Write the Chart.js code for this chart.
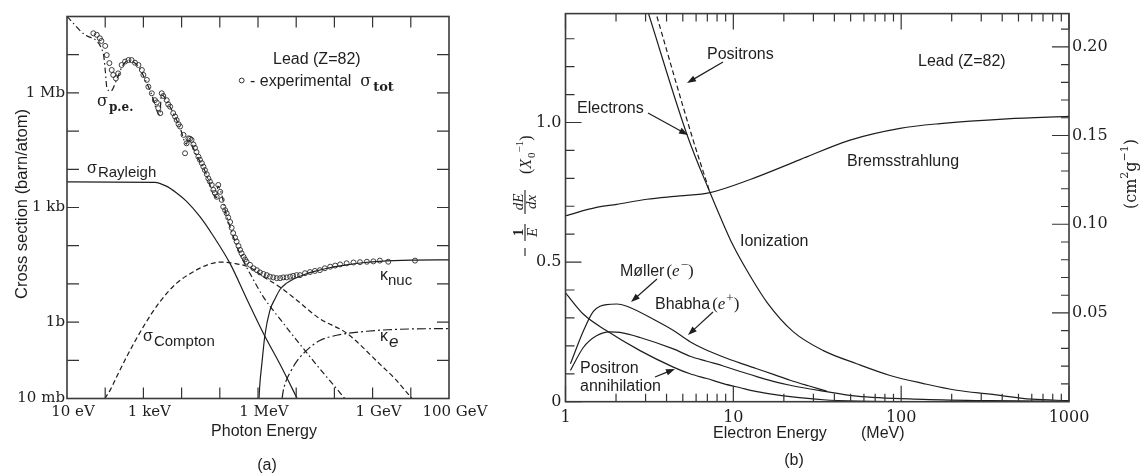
<!DOCTYPE html>
<html><head><meta charset="utf-8">
<script src="https://cdn.jsdelivr.net/npm/chart.js@4.4.1/dist/chart.umd.min.js"></script>
<style>
html,body{margin:0;padding:0;background:#fff;}
#wrap{position:relative;width:1146px;height:473px;overflow:hidden;}
.box{position:absolute;top:0;height:473px;}
</style></head><body>
<div id="wrap">
<div class="box" style="left:0;width:500px"><canvas id="ca"></canvas></div>
<div class="box" style="left:500px;width:646px"><canvas id="cb"></canvas></div>
</div>
<script>
// ================= Panel (a): log10(E / eV) and log10(sigma / barn) =================
const peLogE   = [1.0, 1.5, 1.95, 2.0, 2.05, 2.15, 2.3, 2.45, 2.6, 2.75, 2.9, 3.0, 3.2, 3.43, 3.47, 3.7, 3.95, 4.13, 4.16, 4.4, 4.6, 4.92, 4.95, 5.2, 5.5, 5.83, 6.14, 6.6, 7.01, 7.6, 8.23, 8.27];
const peLogSig = [8.0, 7.5, 7.04, 6.6, 6.1, 6.05, 6.35, 6.7, 6.85, 6.8, 6.65, 6.45, 6.0, 5.42, 5.95, 5.63, 5.11, 4.66, 4.78, 4.35, 3.98, 3.26, 3.56, 2.7, 1.85, 1.2, 0.66, 0.05, -0.47, -1.2, -1.95, -2.0];

const rayLogE   = [1.0, 3.3, 3.6, 3.87, 4.13, 4.48, 4.8, 5.27, 5.7, 6.14, 6.6, 7.05];
const rayLogSig = [3.67, 3.66, 3.56, 3.38, 3.16, 2.76, 2.3, 1.53, 0.62, -0.29, -1.15, -2.05];

const comLogE   = [1.99, 2.13, 2.3, 2.56, 3.0, 3.43, 3.87, 4.31, 4.66, 5.0, 5.35, 5.79, 6.14, 6.6, 7.01, 7.6, 8.32, 9.19, 9.6, 10.03];
const comLogSig = [-2.0, -1.78, -1.43, -0.91, -0.12, 0.53, 1.02, 1.32, 1.49, 1.57, 1.54, 1.43, 1.19, 0.9, 0.58, 0.1, -0.29, -1.1, -1.5, -2.0];

const nucLogE   = [6.026, 6.05, 6.1, 6.18, 6.31, 6.45, 6.58, 6.75, 6.92, 7.2, 7.45, 7.9, 8.32, 8.8, 9.19, 10.0, 11.0];
const nucLogSig = [-2.0, -1.6, -1.1, -0.35, 0.3, 0.62, 0.86, 1.02, 1.12, 1.24, 1.32, 1.43, 1.5, 1.56, 1.59, 1.62, 1.63];

const keLogE   = [6.63, 6.66, 6.72, 6.84, 7.0, 7.19, 7.4, 7.62, 7.95, 8.32, 8.85, 9.4, 10.0, 11.0];
const keLogSig = [-2.0, -1.8, -1.58, -1.32, -1.05, -0.82, -0.63, -0.48, -0.37, -0.3, -0.24, -0.2, -0.18, -0.17];

const totLogE = [1.69,1.78,1.86,1.90,2.00,2.04,2.11,2.17,2.21,2.28,2.34,2.43,2.52,2.61,2.69,2.78,2.87,2.96,3.00,3.09,3.13,3.22,3.30,3.35,3.39,3.44,3.48,3.52,3.61,3.65,3.70,3.78,3.83,3.87,3.92,3.96,4.05,4.09,4.13,4.18,4.22,4.26,4.31,4.35,4.39,4.44,4.48,4.53,4.57,4.61,4.66,4.70,4.74,4.79,4.83,4.87,4.92,4.96,5.01,5.05,5.09,5.14,5.18,5.22,5.27,5.31,5.35,5.40,5.44,5.49,5.53,5.57,5.62,5.66,5.70,5.79,5.88,5.97,6.05,6.14,6.23,6.31,6.40,6.49,6.58,6.66,6.75,6.84,6.92,7.01,7.10,7.23,7.36,7.49,7.62,7.75,7.89,8.02,8.15,8.32,8.50,8.67,8.85,9.02,9.19,9.41,10.11];
const totLogSig = [7.56,7.52,7.43,7.36,7.23,6.99,6.78,6.60,6.47,6.38,6.51,6.73,6.82,6.86,6.86,6.79,6.73,6.60,6.47,6.34,6.16,5.99,5.81,5.75,5.60,5.47,5.99,5.92,5.81,5.70,5.64,5.47,5.38,5.29,5.18,5.12,4.90,4.42,4.68,4.81,4.80,4.77,4.65,4.56,4.45,4.33,4.25,4.16,4.07,3.98,3.87,3.76,3.68,3.59,3.46,3.38,3.28,3.59,3.41,3.20,3.02,2.93,2.85,2.74,2.62,2.47,2.33,2.21,2.11,1.99,1.89,1.80,1.71,1.64,1.58,1.50,1.41,1.36,1.30,1.26,1.23,1.19,1.17,1.15,1.15,1.17,1.17,1.19,1.21,1.23,1.23,1.28,1.31,1.34,1.36,1.41,1.45,1.48,1.51,1.54,1.56,1.57,1.58,1.59,1.61,1.58,1.61];

const xTickValsA   = [1e1, 1e3, 1e6, 1e9, 1e11];
const xTickLabelsA = ['10 eV', '1 keV', '1 MeV', '1 GeV', '100 GeV'];
const yTickValsA   = [1e-2, 1, 1e3, 1e6];
const yTickLabelsA = ['10 mb', '1b', '1 kb', '1 Mb'];
const xDecadesA = [1e2,1e3,1e4,1e5,1e6,1e7,1e8,1e9,1e10];
const yDecadesA = [1e-1,1,1e1,1e2,1e3,1e4,1e5,1e6,1e7];

// ================= Panel (b): E in MeV, -1/E dE/dx in X0^-1 =================
const elecE = [3.1, 5.35, 7.26, 8.33, 9.96, 12.6, 15.9, 22.8, 34.4, 54.3, 85.9, 136, 214, 339, 600, 1000];
const elecV = [1.396, 0.949, 0.749, 0.664, 0.56, 0.45, 0.355, 0.25, 0.183, 0.136, 0.094, 0.065, 0.041, 0.027, 0.009, 0.004];
const posiE = [3.4, 5.68, 7.26];
const posiV = [1.407, 0.949, 0.749];
const bremE = [1, 1.53, 2.02, 3.05, 4.81, 7.26, 12.6, 25, 49.6, 98.5, 171, 426, 1000];
const bremV = [0.666, 0.696, 0.707, 0.725, 0.737, 0.749, 0.796, 0.867, 0.937, 0.979, 0.996, 1.013, 1.022];
const mollE = [1.07, 1.28, 1.47, 1.76, 2.02, 2.32, 3.49, 4.4, 5.52, 6.9, 8.72, 11, 13.8, 17.5, 21.8, 28, 36];
const mollV = [0.136, 0.254, 0.324, 0.348, 0.350, 0.342, 0.289, 0.255, 0.215, 0.185, 0.16, 0.138, 0.118, 0.097, 0.077, 0.057, 0.038];
const bhabE = [1.07, 1.28, 1.53, 1.84, 2.11, 2.78, 4.39, 5.52, 6.94, 8.72, 11, 13.8, 17.3, 21.8, 34.4, 54.3, 136, 339, 1000];
const bhabV = [0.112, 0.195, 0.236, 0.250, 0.248, 0.230, 0.189, 0.163, 0.145, 0.128, 0.108, 0.09, 0.073, 0.059, 0.038, 0.020, 0.0085, 0.0035, 0.001];
const annE = [1, 1.28, 1.76, 2.78, 4.39, 5.52, 6.94, 8.72, 11, 13.8, 17.3, 21.8, 34.4, 55, 100];
const annV = [0.39, 0.313, 0.254, 0.183, 0.124, 0.100, 0.083, 0.065, 0.050, 0.036, 0.026, 0.018, 0.007, 0.002, 0.0];

const xTickValsB = [1, 10, 100, 1000];
const xTickLabelsB = ['1', '10', '100', '1000'];
const xMinorB = [2,3,4,5,6,7,8,9,20,30,40,50,60,70,80,90,200,300,400,500,600,700,800,900];
const yMaxB = 1.39;
const yTickValsB = [0, 0.5, 1.0];
const yTickLabelsB = ['0', '0.5', '1.0'];
const yMinorB = [0.1,0.2,0.3,0.4,0.6,0.7,0.8,0.9,1.1,1.2,1.3];
const y2MaxB = 0.2187;
const y2TickValsB = [0.05, 0.10, 0.15, 0.20];
const y2TickLabelsB = ['0.05', '0.10', '0.15', '0.20'];
const y2MinorB = [0.01,0.02,0.03,0.04,0.06,0.07,0.08,0.09,0.11,0.12,0.13,0.14,0.16,0.17,0.18,0.19,0.21];

// ================= helpers =================
const SANS = "'Liberation Sans', Arial, sans-serif";
const SERIF = "'DejaVu Serif', serif";
const MATH = "'Liberation Serif', 'Times New Roman', serif";
const INK = '#1e1e1e';
const logPts = (lx, ly) => lx.map((v, i) => ({x: Math.pow(10, v), y: Math.pow(10, ly[i])}));
const linPts = (xs, ys) => xs.map((v, i) => ({x: v, y: ys[i]}));
Chart.defaults.color = INK;

function lineDS(data, dash) {
  return {data, borderColor: INK, borderWidth: 1.2, pointRadius: 0, fill: false,
          borderDash: dash || [], cubicInterpolationMode: 'monotone'};
}
function frameTicks(chart, specs) {
  const ctx = chart.ctx, a = chart.chartArea;
  ctx.save();
  ctx.strokeStyle = '#333'; ctx.lineWidth = 1.2;
  ctx.beginPath();
  specs.forEach(([id, vals, len, sides]) => {
    const s = chart.scales[id];
    vals.forEach(v => {
      const p = s.getPixelForValue(v);
      sides.forEach(side => {
        if (side === 'bottom') { ctx.moveTo(p, a.bottom); ctx.lineTo(p, a.bottom - len); }
        if (side === 'top') { ctx.moveTo(p, a.top); ctx.lineTo(p, a.top + len); }
        if (side === 'left') { ctx.moveTo(a.left, p); ctx.lineTo(a.left + len, p); }
        if (side === 'right') { ctx.moveTo(a.right, p); ctx.lineTo(a.right - len, p); }
      });
    });
  });
  ctx.stroke();
  ctx.lineWidth = 1.6; ctx.strokeStyle = '#3a3a3a';
  ctx.strokeRect(a.left, a.top, a.right - a.left, a.bottom - a.top);
  ctx.restore();
}
function rich(ctx, x, y, segs, align) {
  let w = 0;
  segs.forEach(s => { ctx.font = s.f; s.w = ctx.measureText(s.t).width + (s.dx || 0); w += s.w; });
  let cx = align === 'center' ? x - w / 2 : x;
  ctx.textAlign = 'left';
  segs.forEach(s => { ctx.font = s.f; ctx.fillText(s.t, cx, y + (s.dy || 0)); cx += s.w; });
}
function arrow(ctx, x1, y1, x2, y2) {
  const ang = Math.atan2(y2 - y1, x2 - x1), L = 9, W = 3.2;
  ctx.beginPath(); ctx.moveTo(x1, y1); ctx.lineTo(x2 - L * 0.8 * Math.cos(ang), y2 - L * 0.8 * Math.sin(ang)); ctx.stroke();
  ctx.beginPath();
  ctx.moveTo(x2, y2);
  ctx.lineTo(x2 - L * Math.cos(ang) + W * Math.sin(ang), y2 - L * Math.sin(ang) - W * Math.cos(ang));
  ctx.lineTo(x2 - L * Math.cos(ang) - W * Math.sin(ang), y2 - L * Math.sin(ang) + W * Math.cos(ang));
  ctx.closePath(); ctx.fill();
}
function setTicks(vals) { return s => { s.ticks = vals.map(v => ({value: v})); }; }

// ================= Chart (a) =================
const annotA = {
  id: 'annotA',
  afterDraw(chart) {
    frameTicks(chart, [['x', xDecadesA, 11, ['bottom', 'top']], ['y', yDecadesA, 12, ['left', 'right']]]);
    const ctx = chart.ctx;
    ctx.save();
    ctx.fillStyle = INK; ctx.strokeStyle = INK; ctx.textBaseline = 'alphabetic';
    ctx.font = '16px ' + SANS; ctx.textAlign = 'left';
    ctx.fillText('Lead (Z=82)', 273, 64);
    ctx.lineWidth = 0.9; ctx.beginPath(); ctx.arc(241.7, 80.5, 2.4, 0, Math.PI * 2); ctx.stroke();
    rich(ctx, 250, 86, [{t: '- experimental  ', f: '16px ' + SANS}, {t: 'σ', f: '16px ' + SERIF, dx: 2}, {t: 'tot', f: 'bold 13px ' + SERIF, dy: 5}]);
    rich(ctx, 97, 106, [{t: 'σ', f: '16px ' + SERIF, dx: 1}, {t: 'p.e.', f: 'bold 12px ' + SERIF, dy: 5}]);
    rich(ctx, 87, 173, [{t: 'σ', f: '16px ' + SANS, dx: 1}, {t: 'Rayleigh', f: '15px ' + SANS, dy: 4}]);
    rich(ctx, 143, 341, [{t: 'σ', f: '16px ' + SANS, dx: 1}, {t: 'Compton', f: '15px ' + SANS, dy: 5}]);
    rich(ctx, 380, 280, [{t: 'κ', f: '16px ' + SANS}, {t: 'nuc', f: '15px ' + SANS, dy: 5}]);
    rich(ctx, 380, 341, [{t: 'κ', f: '16px ' + SANS, dx: 1}, {t: 'e', f: 'italic 17px ' + SANS, dy: 6}]);
    ctx.textAlign = 'center';
    ctx.font = '16px ' + SANS;
    ctx.fillText('Photon Energy', 264, 436);
    ctx.fillText('(a)', 267, 470);
    ctx.translate(22, 204); ctx.rotate(-Math.PI / 2);
    ctx.textBaseline = 'middle'; ctx.font = '16.5px ' + SANS;
    ctx.fillText('Cross section (barn/atom)', 0, 0);
    ctx.restore();
  }
};

new Chart(document.getElementById('ca'), {
  type: 'line',
  data: {datasets: [
    {data: logPts(totLogE, totLogSig), showLine: false, pointRadius: 2.5, pointStyle: 'circle',
     pointBorderColor: '#2a2a2a', pointBackgroundColor: 'rgba(255,255,255,0)', pointBorderWidth: 0.9},
    lineDS(logPts(peLogE, peLogSig), [6, 3, 1.5, 3]),
    lineDS(logPts(rayLogE, rayLogSig)),
    lineDS(logPts(comLogE, comLogSig), [5, 3]),
    lineDS(logPts(nucLogE, nucLogSig)),
    lineDS(logPts(keLogE, keLogSig), [9, 3, 2, 3])
  ]},
  options: {
    responsive: true, maintainAspectRatio: false, animation: false, parsing: true,
    layout: {padding: {top: 16.5, right: 51, left: 0, bottom: 0}},
    plugins: {legend: {display: false}, tooltip: {enabled: false}},
    scales: {
      x: {type: 'logarithmic', min: 1e1, max: 1e11, position: 'bottom',
          grid: {display: false, drawTicks: false}, border: {display: false},
          afterBuildTicks: setTicks(xTickValsA), afterFit: s => { s.height = 74.5; },
          ticks: {autoSkip: false, maxRotation: 0, minRotation: 0, padding: 5, labelOffset: 6,
                  font: {family: 'DejaVu Serif', size: 15}, color: INK, callback: (v, i) => xTickLabelsA[i]}},
      y: {type: 'logarithmic', min: 1e-2, max: 1e8, position: 'left',
          grid: {display: false, drawTicks: false}, border: {display: false},
          afterBuildTicks: setTicks(yTickValsA), afterFit: s => { s.width = 67; },
          ticks: {autoSkip: false, padding: 2, font: {family: 'DejaVu Serif', size: 15}, color: INK,
                  callback: (v, i) => yTickLabelsA[i]}}
    }
  },
  plugins: [annotA]
});

// ================= Chart (b) =================
const OX = 500;
const annotB = {
  id: 'annotB',
  afterDraw(chart) {
    frameTicks(chart, [
      ['x', xTickValsB, 16, ['bottom', 'top']], ['x', xMinorB, 8, ['bottom', 'top']],
      ['y', yTickValsB, 16, ['left']], ['y', yMinorB, 9, ['left']],
      ['y2', y2TickValsB, 17, ['right']], ['y2', y2MinorB, 8, ['right']]
    ]);
    const ctx = chart.ctx;
    ctx.save();
    ctx.fillStyle = INK; ctx.strokeStyle = INK; ctx.lineWidth = 1.2;
    ctx.textBaseline = 'alphabetic'; ctx.textAlign = 'left';
    ctx.font = '16px ' + SANS;
    ctx.fillText('Positrons', 707 - OX, 58.5);
    ctx.fillText('Electrons', 577 - OX, 112.5);
    ctx.fillText('Lead (Z=82)', 918 - OX, 65.5);
    ctx.fillText('Bremsstrahlung', 847 - OX, 165.5);
    ctx.fillText('Ionization', 740 - OX, 245.5);
    ctx.fillText('Positron', 580 - OX, 372.5);
    ctx.fillText('annihilation', 580 - OX, 390.5);
    rich(ctx, 620 - OX, 275.5, [{t: 'Møller', f: '16px ' + SANS, dx: 2}, {t: '(', f: '17px ' + MATH},
      {t: 'e', f: 'italic 17px ' + MATH, dx: 1}, {t: '−', f: '13px ' + MATH, dy: -7}, {t: ')', f: '17px ' + MATH}]);
    rich(ctx, 655 - OX, 308.5, [{t: 'Bhabha', f: '16px ' + SANS, dx: 2}, {t: '(', f: '17px ' + MATH},
      {t: 'e', f: 'italic 17px ' + MATH, dx: 1}, {t: '+', f: '13px ' + MATH, dy: -7}, {t: ')', f: '17px ' + MATH}]);
    arrow(ctx, 723 - OX, 62, 687 - OX, 83);
    arrow(ctx, 648 - OX, 113, 688 - OX, 135);
    arrow(ctx, 657 - OX, 279, 631 - OX, 302);
    arrow(ctx, 713 - OX, 312, 688 - OX, 335);
    arrow(ctx, 655 - OX, 377, 675 - OX, 369);
    ctx.textAlign = 'left'; ctx.font = '16px ' + SANS;
    ctx.fillText('Electron Energy', 713 - OX, 437.5);
    ctx.fillText('(MeV)', 861 - OX, 437.5);
    ctx.textAlign = 'center';
    ctx.fillText('(b)', 794 - OX, 465);
    // left axis title
    ctx.save();
    ctx.translate(525 - OX, 256); ctx.rotate(-Math.PI / 2);
    ctx.lineWidth = 1.1;
    ctx.beginPath(); ctx.moveTo(0, 0); ctx.lineTo(8, 0);
    ctx.moveTo(15, 0); ctx.lineTo(32, 0);
    ctx.moveTo(42, 0); ctx.lineTo(66, 0); ctx.stroke();
    ctx.textAlign = 'center';
    ctx.font = 'bold 15px ' + MATH; ctx.fillText('1', 23.5, -2.5);
    ctx.font = 'italic 15px ' + MATH; ctx.fillText('E', 23.5, 12);
    ctx.fillText('dE', 54, -2.5); ctx.fillText('dx', 54, 11);
    rich(ctx, 82, 6, [{t: '(', f: '16px ' + MATH}, {t: 'X', f: 'italic 16px ' + MATH, dx: 1},
      {t: '0', f: '11px ' + MATH, dy: 4}, {t: '−1', f: '11px ' + MATH, dy: -8}, {t: ')', f: '16px ' + MATH}]);
    ctx.restore();
    // right axis title
    ctx.save();
    ctx.translate(1136 - OX, 174); ctx.rotate(-Math.PI / 2);
    rich(ctx, 0, 0, [{t: '(cm', f: '16px ' + SERIF}, {t: '2', f: '11px ' + SERIF, dy: -8},
      {t: 'g', f: '16px ' + SERIF}, {t: '−1', f: '11px ' + SERIF, dy: -8}, {t: ')', f: '16px ' + SERIF}], 'center');
    ctx.restore();
    ctx.restore();
  }
};

new Chart(document.getElementById('cb'), {
  type: 'line',
  data: {datasets: [
    lineDS(linPts(elecE, elecV)),
    lineDS(linPts(posiE, posiV), [5, 3]),
    lineDS(linPts(bremE, bremV)),
    lineDS(linPts(mollE, mollV)),
    lineDS(linPts(bhabE, bhabV)),
    lineDS(linPts(annE, annV))
  ]},
  options: {
    responsive: true, maintainAspectRatio: false, animation: false,
    layout: {padding: {top: 8.3, right: 0, left: 0, bottom: 0}},
    plugins: {legend: {display: false}, tooltip: {enabled: false}},
    scales: {
      x: {type: 'logarithmic', min: 1, max: 1000, position: 'bottom',
          grid: {display: false, drawTicks: false}, border: {display: false},
          afterBuildTicks: setTicks(xTickValsB), afterFit: s => { s.height = 71.3; },
          ticks: {autoSkip: false, maxRotation: 0, minRotation: 0, padding: 7,
                  font: {family: 'DejaVu Serif', size: 16}, color: INK, callback: (v, i) => xTickLabelsB[i]}},
      y: {type: 'linear', min: 0, max: yMaxB, position: 'left',
          grid: {display: false, drawTicks: false}, border: {display: false},
          afterBuildTicks: setTicks(yTickValsB), afterFit: s => { s.width = 65.5; },
          ticks: {autoSkip: false, padding: 4, font: {family: 'DejaVu Serif', size: 16}, color: INK,
                  callback: (v, i) => yTickLabelsB[i]}},
      y2: {type: 'linear', min: 0, max: y2MaxB, position: 'right',
          grid: {display: false, drawTicks: false}, border: {display: false},
          afterBuildTicks: setTicks(y2TickValsB), afterFit: s => { s.width = 77; },
          ticks: {autoSkip: false, padding: 3, font: {family: 'DejaVu Serif', size: 16}, color: INK,
                  callback: (v, i) => y2TickLabelsB[i]}}
    }
  },
  plugins: [annotB]
});
</script>
</body></html>
